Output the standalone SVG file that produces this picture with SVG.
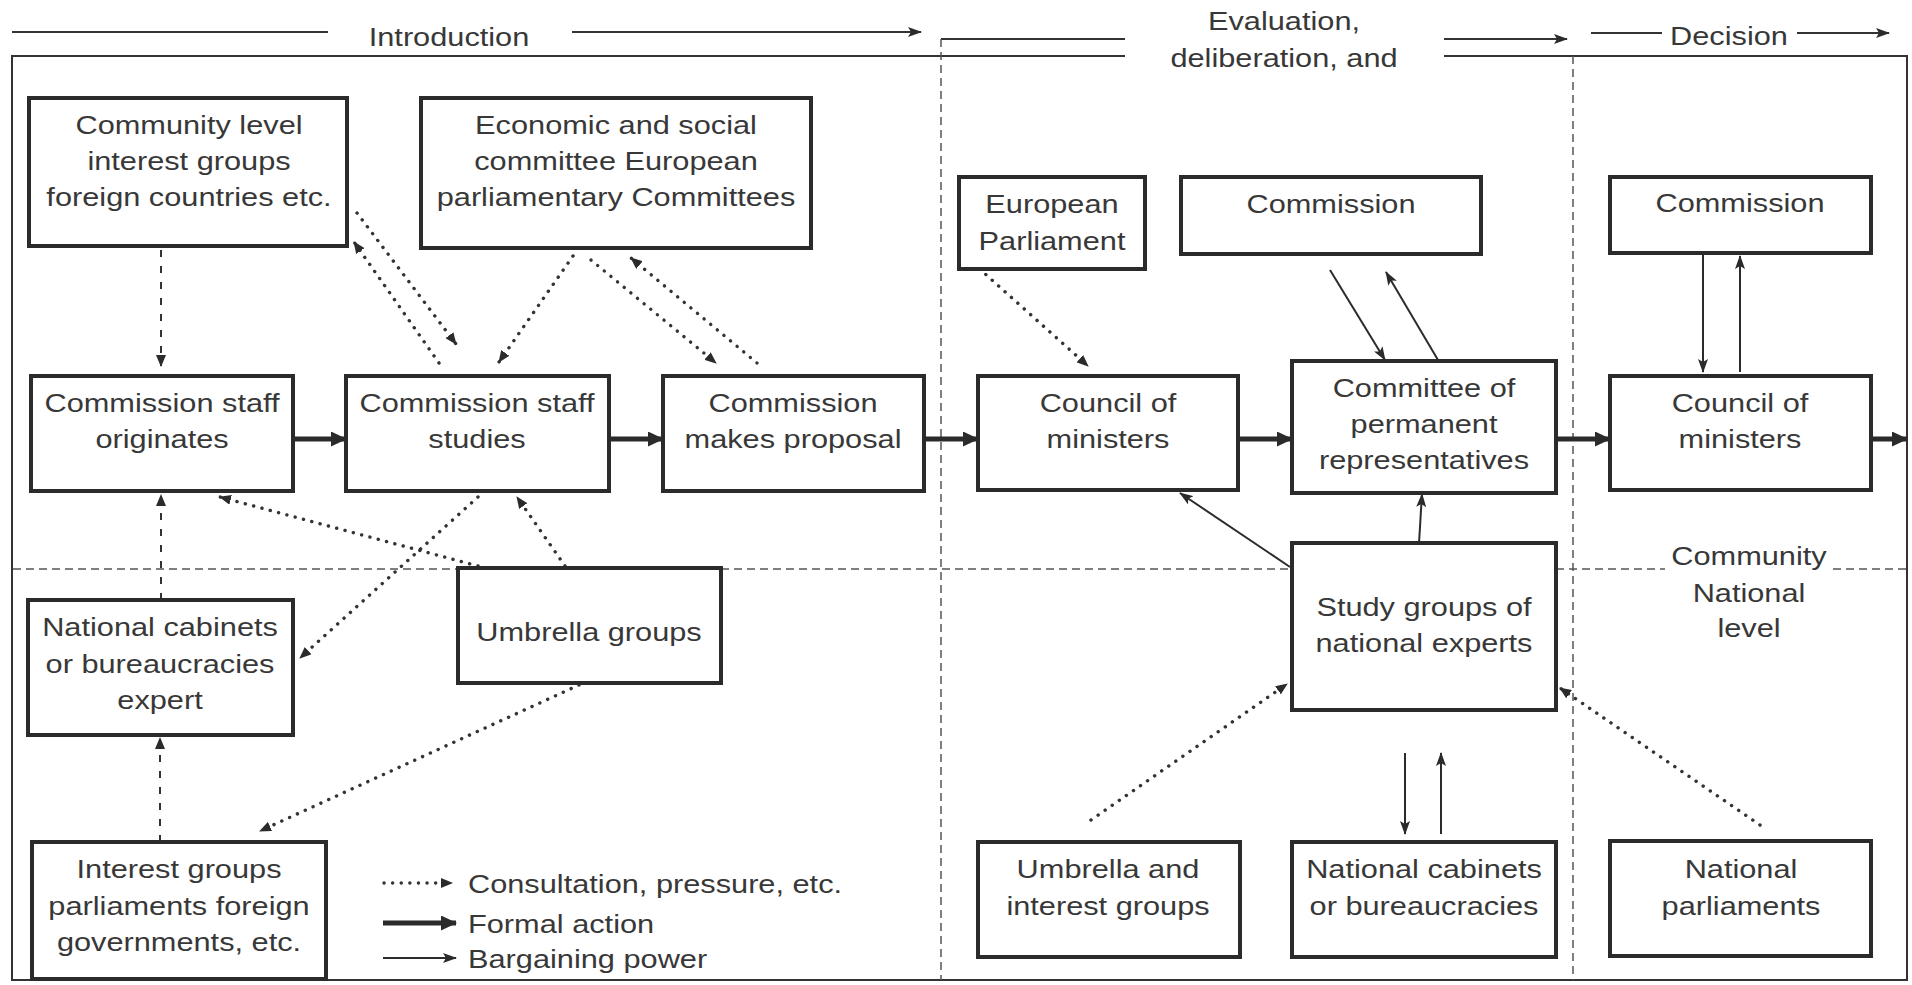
<svg xmlns="http://www.w3.org/2000/svg" width="1912" height="985" viewBox="0 0 1912 985">
<defs>
<style>
.bx{fill:#fff;stroke:#2b2b2b;stroke-width:4}
.t{font-family:"Liberation Sans",Arial,sans-serif;font-size:26.5px;fill:#383838;text-anchor:middle}
.tl{font-family:"Liberation Sans",Arial,sans-serif;font-size:26.5px;fill:#383838}
.frame{fill:none;stroke:#333;stroke-width:2}
.sep{fill:none;stroke:#555;stroke-width:1.5;stroke-dasharray:8 5}
.hl{fill:none;stroke:#333;stroke-width:2}
.dot{fill:none;stroke:#333;stroke-width:3.4;stroke-linecap:round;stroke-dasharray:0.1 8.5;marker-end:url(#hd)}
.dash{fill:none;stroke:#333;stroke-width:2;stroke-dasharray:7 9;marker-end:url(#hd)}
.thick{fill:none;stroke:#2b2b2b;stroke-width:5;marker-end:url(#ht)}
.thin{fill:none;stroke:#2b2b2b;stroke-width:2;marker-end:url(#hn)}
</style>
<marker id="hd" markerUnits="userSpaceOnUse" viewBox="0 0 12 10" refX="11" refY="5" markerWidth="12" markerHeight="10" orient="auto"><path d="M0,0 L12,5 L0,10 z" fill="#2b2b2b"/></marker>
<marker id="ht" markerUnits="userSpaceOnUse" viewBox="0 0 16 15" refX="15" refY="7.5" markerWidth="16" markerHeight="15" orient="auto"><path d="M0,0 L16,7.5 L0,15 z" fill="#2b2b2b"/></marker>
<marker id="hn" markerUnits="userSpaceOnUse" viewBox="0 0 14 10" refX="13" refY="5" markerWidth="14" markerHeight="10" orient="auto"><path d="M0,0 L14,5 L0,10 L3,5 z" fill="#2b2b2b"/></marker>
</defs>
<rect x="0" y="0" width="1912" height="985" fill="#fff"/>

<g id="header">
<line class="hl" x1="12" y1="32" x2="328" y2="32"/>
<text class="t" transform="matrix(1.16 0 0 1 449 46)">Introduction</text>
<line class="hl" x1="572" y1="32" x2="921" y2="32" marker-end="url(#hn)"/>
<line class="hl" x1="941" y1="39" x2="1125" y2="39"/>
<text class="t" transform="matrix(1.16 0 0 1 1284 30)">Evaluation,</text>
<text class="t" transform="matrix(1.16 0 0 1 1284 67)">deliberation, and</text>
<line class="hl" x1="1444" y1="39" x2="1567" y2="39" marker-end="url(#hn)"/>
<line class="hl" x1="1591" y1="33" x2="1662" y2="33"/>
<text class="t" transform="matrix(1.16 0 0 1 1729 45)">Decision</text>
<line class="hl" x1="1797" y1="33" x2="1889" y2="33" marker-end="url(#hn)"/>
</g>

<g id="frame">
<path class="frame" d="M1125,56 H12 V980 H1907 V56 H1444"/>
<line class="sep" x1="941" y1="39" x2="941" y2="980"/>
<line class="sep" x1="1573" y1="56" x2="1573" y2="980"/>
<line class="sep" x1="13" y1="569" x2="458" y2="569"/>
<line class="sep" x1="721" y1="569" x2="1292" y2="569"/>
<line class="sep" x1="1556" y1="569" x2="1665" y2="569"/>
<line class="sep" x1="1833" y1="569" x2="1907" y2="569"/>
</g>

<g id="connectors">
<line class="dot" x1="357" y1="213" x2="456" y2="344"/>
<line class="dot" x1="439" y1="363" x2="354" y2="242"/>
<line class="dot" x1="573" y1="256" x2="499" y2="362"/>
<line class="dot" x1="591" y1="260" x2="716" y2="363"/>
<line class="dot" x1="757" y1="363" x2="631" y2="258"/>
<line class="dot" x1="478" y1="566" x2="220" y2="497"/>
<line class="dot" x1="478" y1="497" x2="300" y2="658"/>
<line class="dot" x1="565" y1="566" x2="517" y2="497"/>
<line class="dot" x1="579" y1="685" x2="260" y2="831"/>
<line class="dot" x1="973" y1="263" x2="1088" y2="366"/>
<line class="dot" x1="1091" y1="820" x2="1287" y2="684"/>
<line class="dot" x1="1760" y1="825" x2="1560" y2="688"/>
<line class="dash" x1="161" y1="250" x2="161" y2="366"/>
<line class="dash" x1="161" y1="600" x2="161" y2="495"/>
<line class="dash" x1="160" y1="842" x2="160" y2="738"/>
<line class="thick" x1="293" y1="439" x2="346" y2="439"/>
<line class="thick" x1="609" y1="439" x2="663" y2="439"/>
<line class="thick" x1="924" y1="439" x2="978" y2="439"/>
<line class="thick" x1="1238" y1="439" x2="1292" y2="439"/>
<line class="thick" x1="1556" y1="439" x2="1610" y2="439"/>
<line class="thick" x1="1871" y1="439" x2="1907" y2="439"/>
<line class="thin" x1="1330" y1="270" x2="1385" y2="360"/>
<line class="thin" x1="1438" y1="360" x2="1386" y2="272"/>
<line class="thin" x1="1703" y1="255" x2="1703" y2="372"/>
<line class="thin" x1="1740" y1="372" x2="1740" y2="256"/>
<line class="thin" x1="1290" y1="567" x2="1180" y2="493"/>
<line class="thin" x1="1419" y1="543" x2="1422" y2="494"/>
<line class="thin" x1="1405" y1="753" x2="1405" y2="834"/>
<line class="thin" x1="1441" y1="834" x2="1441" y2="753"/>
</g>

<g id="n-community"><rect class="bx" x="29" y="98" width="318" height="148"/>
<text class="t" transform="matrix(1.16 0 0 1 189 134)">Community level</text><text class="t" transform="matrix(1.16 0 0 1 189 170)">interest groups</text><text class="t" transform="matrix(1.16 0 0 1 189 206)">foreign countries etc.</text></g>
<g id="n-economic"><rect class="bx" x="421" y="98" width="390" height="150"/>
<text class="t" transform="matrix(1.16 0 0 1 616 134)">Economic and social</text><text class="t" transform="matrix(1.16 0 0 1 616 170)">committee European</text><text class="t" transform="matrix(1.16 0 0 1 616 206)">parliamentary Committees</text></g>
<g id="n-originates"><rect class="bx" x="31" y="376" width="262" height="115"/>
<text class="t" transform="matrix(1.16 0 0 1 162 412)">Commission staff</text><text class="t" transform="matrix(1.16 0 0 1 162 448)">originates</text></g>
<g id="n-studies"><rect class="bx" x="346" y="376" width="263" height="115"/>
<text class="t" transform="matrix(1.16 0 0 1 477 412)">Commission staff</text><text class="t" transform="matrix(1.16 0 0 1 477 448)">studies</text></g>
<g id="n-proposal"><rect class="bx" x="663" y="376" width="261" height="115"/>
<text class="t" transform="matrix(1.16 0 0 1 793 412)">Commission</text><text class="t" transform="matrix(1.16 0 0 1 793 448)">makes proposal</text></g>
<g id="n-natcab1"><rect class="bx" x="28" y="600" width="265" height="135"/>
<text class="t" transform="matrix(1.16 0 0 1 160 636)">National cabinets</text><text class="t" transform="matrix(1.16 0 0 1 160 673)">or bureaucracies</text><text class="t" transform="matrix(1.16 0 0 1 160 709)">expert</text></g>
<g id="n-umbrella"><rect class="bx" x="458" y="568" width="263" height="115"/>
<text class="t" transform="matrix(1.16 0 0 1 589 641)">Umbrella groups</text></g>
<g id="n-interest"><rect class="bx" x="32" y="842" width="294" height="137"/>
<text class="t" transform="matrix(1.16 0 0 1 179 878)">Interest groups</text><text class="t" transform="matrix(1.16 0 0 1 179 915)">parliaments foreign</text><text class="t" transform="matrix(1.16 0 0 1 179 951)">governments, etc.</text></g>
<g id="n-ep"><rect class="bx" x="959" y="177" width="186" height="92"/>
<text class="t" transform="matrix(1.16 0 0 1 1052 213)">European</text><text class="t" transform="matrix(1.16 0 0 1 1052 250)">Parliament</text></g>
<g id="n-comm1"><rect class="bx" x="1181" y="177" width="300" height="77"/>
<text class="t" transform="matrix(1.16 0 0 1 1331 213)">Commission</text></g>
<g id="n-comm2"><rect class="bx" x="1610" y="177" width="261" height="76"/>
<text class="t" transform="matrix(1.16 0 0 1 1740 212)">Commission</text></g>
<g id="n-council1"><rect class="bx" x="978" y="376" width="260" height="114"/>
<text class="t" transform="matrix(1.16 0 0 1 1108 412)">Council of</text><text class="t" transform="matrix(1.16 0 0 1 1108 448)">ministers</text></g>
<g id="n-coreper"><rect class="bx" x="1292" y="361" width="264" height="132"/>
<text class="t" transform="matrix(1.16 0 0 1 1424 397)">Committee of</text><text class="t" transform="matrix(1.16 0 0 1 1424 433)">permanent</text><text class="t" transform="matrix(1.16 0 0 1 1424 469)">representatives</text></g>
<g id="n-council2"><rect class="bx" x="1610" y="376" width="261" height="114"/>
<text class="t" transform="matrix(1.16 0 0 1 1740 412)">Council of</text><text class="t" transform="matrix(1.16 0 0 1 1740 448)">ministers</text></g>
<g id="n-study"><rect class="bx" x="1292" y="543" width="264" height="167"/>
<text class="t" transform="matrix(1.16 0 0 1 1424 616)">Study groups of</text><text class="t" transform="matrix(1.16 0 0 1 1424 652)">national experts</text></g>
<g id="n-umbint"><rect class="bx" x="978" y="842" width="262" height="115"/>
<text class="t" transform="matrix(1.16 0 0 1 1108 878)">Umbrella and</text><text class="t" transform="matrix(1.16 0 0 1 1108 915)">interest groups</text></g>
<g id="n-natcab2"><rect class="bx" x="1292" y="842" width="264" height="115"/>
<text class="t" transform="matrix(1.16 0 0 1 1424 878)">National cabinets</text><text class="t" transform="matrix(1.16 0 0 1 1424 915)">or bureaucracies</text></g>
<g id="n-natparl"><rect class="bx" x="1610" y="841" width="261" height="115"/>
<text class="t" transform="matrix(1.16 0 0 1 1741 878)">National</text><text class="t" transform="matrix(1.16 0 0 1 1741 915)">parliaments</text></g>
<g id="levels">
<text class="t" transform="matrix(1.16 0 0 1 1749 565)">Community</text><text class="t" transform="matrix(1.16 0 0 1 1749 602)">National</text><text class="t" transform="matrix(1.16 0 0 1 1749 637)">level</text></g>

<g id="legend">
<line class="dot" x1="384" y1="883" x2="452" y2="883"/>
<text class="tl" transform="matrix(1.16 0 0 1 468 893)">Consultation, pressure, etc.</text>
<line class="thick" x1="383" y1="923" x2="456" y2="923"/>
<text class="tl" transform="matrix(1.16 0 0 1 468 933)">Formal action</text>
<line class="thin" x1="383" y1="958" x2="456" y2="958"/>
<text class="tl" transform="matrix(1.16 0 0 1 468 968)">Bargaining power</text>
</g>
</svg>
